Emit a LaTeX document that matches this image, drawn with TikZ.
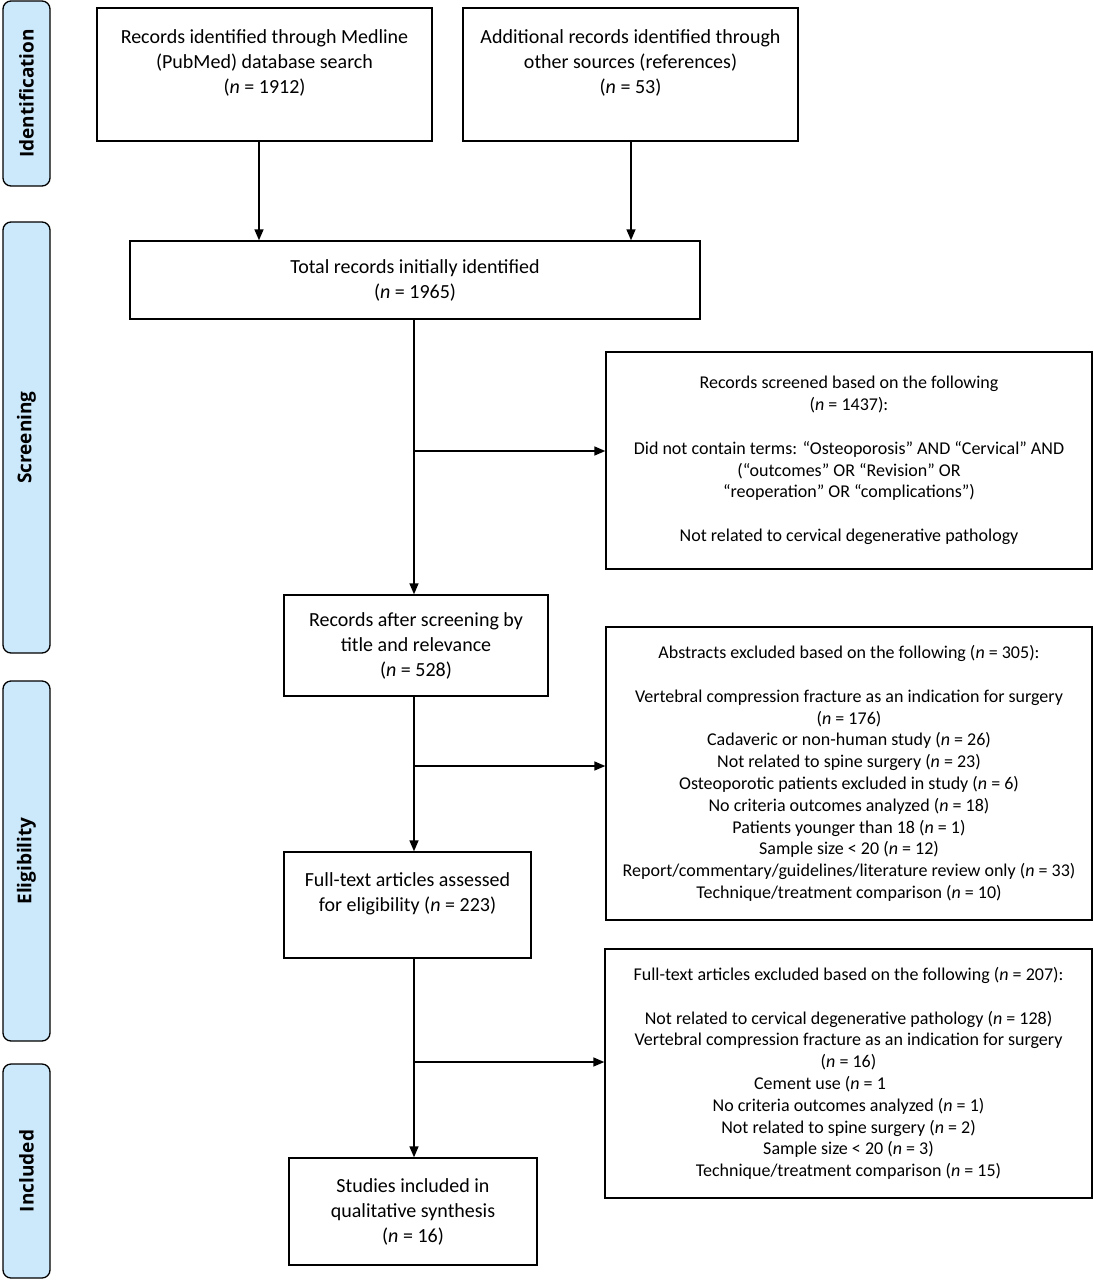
\documentclass[tikz,border=0pt]{standalone}
\usepackage{fontspec}
\setmainfont{Carlito}
\newfontfamily\labelfont{Open Sans}
\usetikzlibrary{arrows.meta}
\definecolor{stagefill}{RGB}{204,232,251}
\begin{document}
\begin{tikzpicture}[x=1pt,y=-1pt,
  stage/.style={draw, line width=1.3pt, fill=stagefill, rounded corners=8pt, rotate=90,
    minimum height=47pt, inner sep=0pt, font=\labelfont\bfseries\fontsize{19}{22}\selectfont},
  mainbox/.style={draw, line width=1.4pt, align=center, inner sep=0pt,
    font=\fontsize{20}{25}\selectfont},
  sidebox/.style={draw, line width=1.4pt, align=center, inner sep=0pt,
    font=\fontsize{18}{21.8}\selectfont},
  arr/.style={line width=1.5pt, -{Triangle[length=11pt,width=9pt]}}]
\useasboundingbox (0,0) rectangle (1094,1280);

% stage labels
\node[stage, minimum width=185pt] (s1) at (26.5,93.5) {Identification};
\node[stage, minimum width=431pt] (s2) at (26.5,437.5) {Screening};
\node[stage, minimum width=360pt] (s3) at (26.5,861) {Eligibility};
\node[stage, minimum width=214pt] (s4) at (26.5,1171) {Included};

% boxes
\node[mainbox, minimum width=335pt, minimum height=133pt] (A) at (264.5,74.5)
  {Records identified through Medline\\(PubMed) database search\\(\textit{n} = 1912)\\~};
\node[mainbox, minimum width=335pt, minimum height=133pt] (B) at (630.5,74.5)
  {Additional records identified through\\other sources (references)\\(\textit{n} = 53)\\~};
\node[mainbox, minimum width=570pt, minimum height=78pt] (total) at (415,280)
  {Total records initially identified\\(\textit{n} = 1965)};
\node[sidebox, minimum width=486pt, minimum height=217pt] (screened) at (849,460.5)
  {Records screened based on the following\\(\textit{n} = 1437):\\~\\Did not contain terms: “Osteoporosis” AND “Cervical” AND\\(“outcomes” OR “Revision” OR\\“reoperation” OR “complications”)\\~\\Not related to cervical degenerative pathology};
\node[mainbox, minimum width=264pt, minimum height=101pt] (after) at (416,645.5)
  {Records after screening by\\title and relevance\\(\textit{n} = 528)};
\node[sidebox, minimum width=486pt, minimum height=293pt] (abstracts) at (849,773.5)
  {Abstracts excluded based on the following (\textit{n} = 305):\\~\\Vertebral compression fracture as an indication for surgery\\(\textit{n} = 176)\\Cadaveric or non-human study (\textit{n} = 26)\\Not related to spine surgery (\textit{n} = 23)\\Osteoporotic patients excluded in study (\textit{n} = 6)\\No criteria outcomes analyzed (\textit{n} = 18)\\Patients younger than 18 (\textit{n} = 1)\\Sample size < 20 (\textit{n} = 12)\\Report/commentary/guidelines/literature review only (\textit{n} = 33)\\Technique/treatment comparison (\textit{n} = 10)};
\node[mainbox, minimum width=247pt, minimum height=106pt] (full) at (407.5,905)
  {Full-text articles assessed\\for eligibility (\textit{n} = 223)\\~};
\node[sidebox, minimum width=487pt, minimum height=249pt] (excluded) at (848.5,1073.5)
  {Full-text articles excluded based on the following (\textit{n} = 207):\\~\\Not related to cervical degenerative pathology (\textit{n} = 128)\\Vertebral compression fracture as an indication for surgery\\(\textit{n} = 16)\\Cement use (\textit{n} = 1\rule{57pt}{0pt}\\No criteria outcomes analyzed (\textit{n} = 1)\\Not related to spine surgery (\textit{n} = 2)\\Sample size < 20 (\textit{n} = 3)\\Technique/treatment comparison (\textit{n} = 15)};
\node[mainbox, minimum width=248pt, minimum height=107pt] (studies) at (413,1211.5)
  {Studies included in\\qualitative synthesis\\(\textit{n} = 16)};

% connectors
\coordinate (ca) at (259,0);
\coordinate (cb) at (631,0);
\coordinate (trunk) at (414,0);
\draw[arr] (A.south -| ca) -- (total.north -| ca);
\draw[arr] (B.south -| cb) -- (total.north -| cb);
\draw[arr] (total.south -| trunk) -- (after.north -| trunk);
\draw[arr] (after.south -| trunk) -- (full.north -| trunk);
\draw[arr] (full.south -| trunk) -- (studies.north -| trunk);
\coordinate (b1) at (414,451);
\coordinate (b2) at (414,766);
\coordinate (b3) at (414,1062);
\draw[arr] (b1) -- (b1 -| screened.west);
\draw[arr] (b2) -- (b2 -| abstracts.west);
\draw[arr] (b3) -- (b3 -| excluded.west);
\end{tikzpicture}
\end{document}
